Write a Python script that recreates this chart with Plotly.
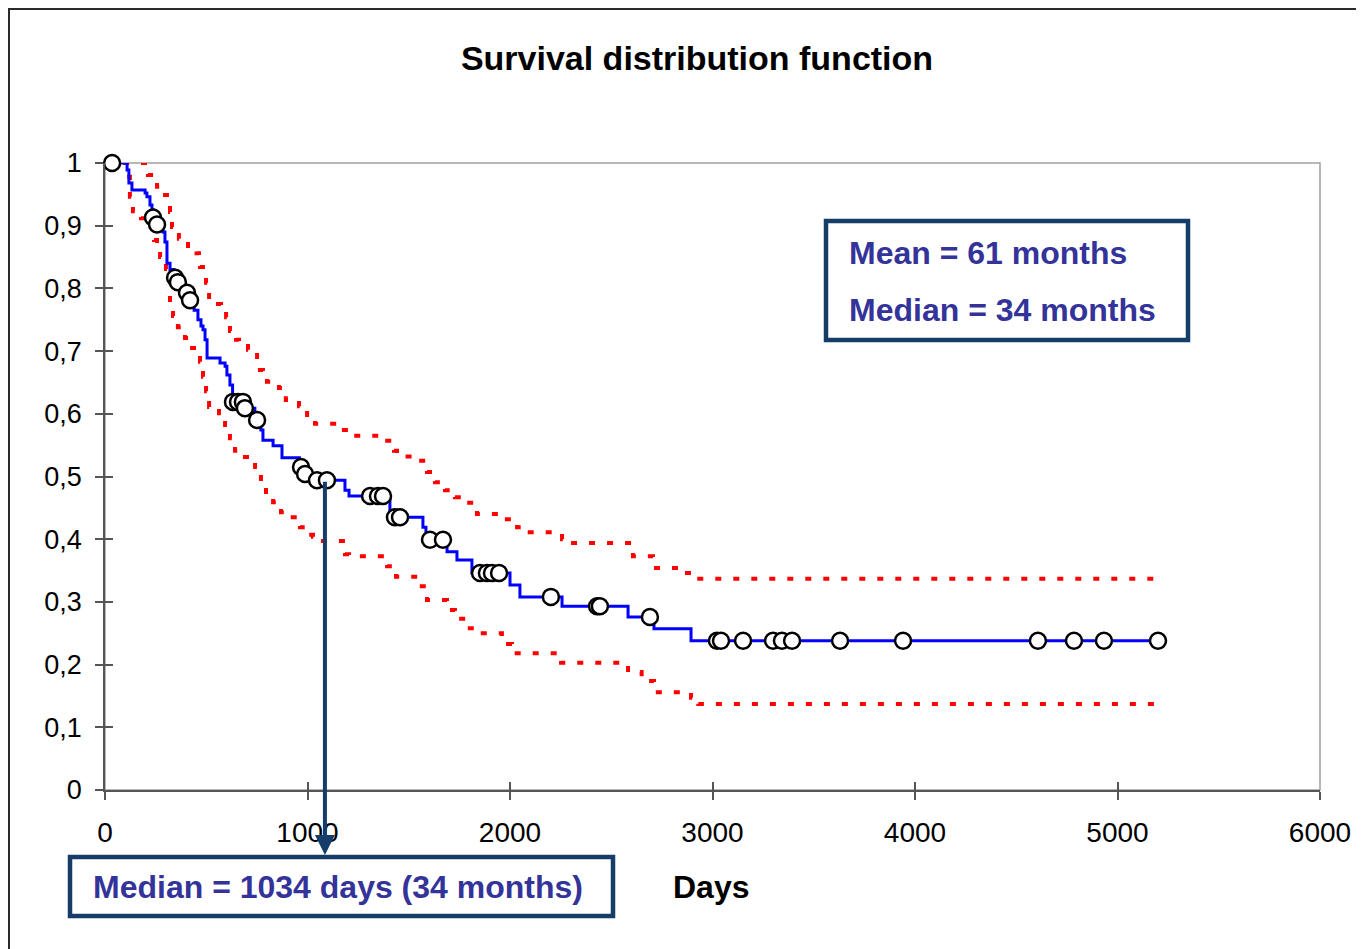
import plotly.graph_objects as go

# ---------------- data ----------------
# Kaplan-Meier estimate: step times (days) and survival after each step
km_times = [0, 109, 118, 133, 198, 207, 222, 232, 240, 250, 286, 296, 306, 321,
            340, 355, 395, 415, 440, 459, 474, 484, 494, 504, 568, 593, 602, 617,
            630, 688, 740, 770, 780, 830, 874, 960, 980, 1030, 1185, 1205, 1407,
            1570, 1585, 1689, 1738, 1812, 2000, 2049, 2257, 2583, 2711, 2894, 5200]
km_surv = [1.000, 0.989, 0.968, 0.957, 0.952, 0.946, 0.933, 0.925, 0.913, 0.902,
           0.890, 0.874, 0.840, 0.830, 0.817, 0.810, 0.793, 0.781, 0.765, 0.750,
           0.740, 0.734, 0.718, 0.689, 0.681, 0.676, 0.662, 0.646, 0.619, 0.609,
           0.590, 0.574, 0.558, 0.549, 0.530, 0.515, 0.504, 0.494, 0.478, 0.469,
           0.435, 0.419, 0.399, 0.380, 0.367, 0.346, 0.327, 0.308, 0.293, 0.276,
           0.257, 0.238, 0.238]

# censored observations (open circles)
cens_times = [35, 237, 257, 346, 360, 405, 420, 632, 657, 681, 691, 751, 968, 988,
              1047, 1096, 1309, 1348, 1373, 1432, 1457, 1605, 1669, 1852, 1886,
              1911, 1946, 2202, 2430, 2444, 2691, 3022, 3042, 3151, 3299, 3343,
              3393, 3630, 3941, 4607, 4785, 4933, 5200]
cens_surv = [1.000, 0.913, 0.902, 0.817, 0.810, 0.793, 0.781, 0.619, 0.619, 0.619,
             0.609, 0.590, 0.515, 0.504, 0.494, 0.494, 0.469, 0.469, 0.469, 0.435,
             0.435, 0.399, 0.399, 0.346, 0.346, 0.346, 0.346, 0.308, 0.293, 0.293,
             0.276, 0.238, 0.238, 0.238, 0.238, 0.238, 0.238, 0.238, 0.238, 0.238,
             0.238, 0.238, 0.238]

# upper confidence limit
upper_times = [0, 212, 257, 286, 306, 321, 331, 365, 410, 452, 464, 469, 484, 499,
               514, 558, 573, 598, 617, 647, 662, 706, 751, 765, 780, 800, 859, 893,
               958, 998, 1037, 1151, 1220, 1383, 1427, 1442, 1531, 1590, 1605, 1630,
               1679, 1728, 1783, 1837, 1965, 2035, 2069, 2257, 2286, 2588, 2607,
               2706, 2860, 2894, 5200]
upper_surv = [1.000, 0.981, 0.962, 0.949, 0.944, 0.922, 0.898, 0.879, 0.864, 0.856,
              0.852, 0.834, 0.829, 0.809, 0.783, 0.775, 0.770, 0.754, 0.732, 0.718,
              0.713, 0.702, 0.686, 0.670, 0.665, 0.651, 0.641, 0.622, 0.612, 0.595,
              0.584, 0.574, 0.565, 0.557, 0.541, 0.532, 0.525, 0.507, 0.502, 0.491,
              0.478, 0.467, 0.458, 0.440, 0.432, 0.419, 0.411, 0.400, 0.394, 0.388,
              0.373, 0.354, 0.346, 0.337, 0.337]

# lower confidence limit
lower_times = [0, 109, 123, 138, 178, 207, 242, 257, 272, 301, 321, 336, 360, 395,
               430, 469, 484, 499, 514, 563, 593, 617, 642, 681, 701, 741, 770, 795,
               830, 869, 914, 963, 998, 1027, 1057, 1185, 1205, 1393, 1437, 1546,
               1590, 1689, 1728, 1783, 1832, 1960, 2010, 2252, 2583, 2650, 2711,
               2894, 2930, 5200]
lower_surv = [1.000, 0.978, 0.946, 0.923, 0.912, 0.907, 0.877, 0.872, 0.850, 0.831,
              0.778, 0.756, 0.738, 0.721, 0.705, 0.683, 0.659, 0.636, 0.611, 0.601,
              0.582, 0.561, 0.541, 0.531, 0.526, 0.515, 0.490, 0.470, 0.459, 0.443,
              0.435, 0.419, 0.407, 0.404, 0.397, 0.376, 0.373, 0.357, 0.340, 0.325,
              0.303, 0.287, 0.273, 0.258, 0.250, 0.233, 0.218, 0.203, 0.188, 0.174,
              0.156, 0.147, 0.137, 0.137]

x_ticks = [0, 1000, 2000, 3000, 4000, 5000, 6000]
x_tick_labels = ["0", "1000", "2000", "3000", "4000", "5000", "6000"]
y_ticks = [0, 0.1, 0.2, 0.3, 0.4, 0.5, 0.6, 0.7, 0.8, 0.9, 1.0]
y_tick_labels = ["0", "0,1", "0,2", "0,3", "0,4", "0,5", "0,6", "0,7", "0,8", "0,9", "1"]

median_arrow_day = 1086
median_arrow_surv = 0.494

title_text = "Survival distribution function"
x_title = "Days"
mean_text = "Mean = 61 months"
median_text = "Median = 34 months"
median_days_text = "Median = 1034 days (34 months)"

# ---------------- layout helpers (screen pixel -> paper) ----------------
SCREEN_W, SCREEN_H = 1364, 949
OFF = 8                      # page body margin
W, H = SCREEN_W - OFF, SCREEN_H - OFF
L, R, T, B = 105, 1320, 163, 790   # plot area in screen pixels


def px_x(px):
    return (px - L) / (R - L)


def px_y(py):
    return (B - py) / (B - T)


FONT = "Liberation Sans, Arial, sans-serif"
NAVY = "#163C6A"
INDIGO = "#333399"
AXIS = "#555555"

fig = go.Figure()

fig.add_trace(go.Scatter(x=upper_times, y=upper_surv, mode="lines", line_shape="hv",
                         line=dict(color="#FF0000", width=4, dash="6px,12px"),
                         showlegend=False, hoverinfo="skip"))
fig.add_trace(go.Scatter(x=lower_times, y=lower_surv, mode="lines", line_shape="hv",
                         line=dict(color="#FF0000", width=4, dash="6px,12px"),
                         showlegend=False, hoverinfo="skip"))
fig.add_trace(go.Scatter(x=km_times, y=km_surv, mode="lines", line_shape="hv",
                         line=dict(color="#0000FF", width=3),
                         showlegend=False))
fig.add_trace(go.Scatter(x=cens_times, y=cens_surv, mode="markers",
                         marker=dict(symbol="circle", size=16, color="white",
                                     line=dict(color="black", width=2.5)),
                         cliponaxis=False, showlegend=False))
# empty trace to host the overlay axes (inner half of the crossing ticks)
fig.add_trace(go.Scatter(x=[], y=[], xaxis="x2", yaxis="y2", showlegend=False))

shapes = [
    # slide frame
    dict(type="rect", xref="paper", yref="paper", layer="below",
         x0=px_x(9), x1=px_x(1400), y0=px_y(1000), y1=px_y(9),
         fillcolor="white", line=dict(color="#2A2A2A", width=2)),
    # plot area border (top / right)
    dict(type="rect", xref="paper", yref="paper", layer="below",
         x0=0, x1=1, y0=0, y1=1, line=dict(color="#A0A0A0", width=1.5)),
    # mean / median box
    dict(type="rect", xref="paper", yref="paper", layer="above",
         x0=px_x(826), x1=px_x(1188), y0=px_y(340), y1=px_y(221),
         fillcolor="white", line=dict(color=NAVY, width=4.5)),
    # median days box
    dict(type="rect", xref="paper", yref="paper", layer="above",
         x0=px_x(70), x1=px_x(613), y0=px_y(916), y1=px_y(857),
         fillcolor="white", line=dict(color=NAVY, width=4.5)),
]

annotations = [
    dict(xref="paper", yref="paper", x=px_x(847), y=px_y(253), xanchor="left",
         yanchor="middle", text=mean_text, showarrow=False,
         font=dict(family=FONT, size=32, color=INDIGO, weight="bold")),
    dict(xref="paper", yref="paper", x=px_x(847), y=px_y(310), xanchor="left",
         yanchor="middle", text=median_text, showarrow=False,
         font=dict(family=FONT, size=32, color=INDIGO, weight="bold")),
    dict(xref="paper", yref="paper", x=px_x(91), y=px_y(887), xanchor="left",
         yanchor="middle", text=median_days_text, showarrow=False,
         font=dict(family=FONT, size=32, color=INDIGO, weight="bold")),
    dict(xref="paper", yref="paper", x=px_x(711), y=px_y(887), xanchor="center",
         yanchor="middle", text=x_title, showarrow=False,
         font=dict(family=FONT, size=32, color="black", weight="bold")),
    # arrow from the curve down to the median box
    dict(xref="x", yref="y", x=median_arrow_day, y=px_y(855),
         axref="x", ayref="y", ax=median_arrow_day, ay=median_arrow_surv,
         text="", showarrow=True, arrowhead=2, arrowsize=1, arrowwidth=4,
         arrowcolor=NAVY, standoff=0, startstandoff=0),
]

fig.update_layout(
    width=W, height=H,
    margin=dict(l=L - OFF, r=SCREEN_W - R, t=T - OFF, b=SCREEN_H - B, pad=0),
    paper_bgcolor="white",
    plot_bgcolor="rgba(0,0,0,0)",
    font=dict(family=FONT, color="black"),
    title=dict(text=title_text, x=px_x(697), xref="paper", xanchor="center",
               y=1 - (58 - OFF) / H, yref="container", yanchor="middle",
               font=dict(family=FONT, size=34, color="black", weight="bold")),
    xaxis=dict(range=[0, 6000], tickvals=x_ticks, ticktext=x_tick_labels,
               ticks="outside", ticklen=8, tickwidth=1.5, tickcolor=AXIS,
               showline=True, linecolor=AXIS, linewidth=1.5,
               showgrid=False, zeroline=False, ticklabelstandoff=9,
               tickfont=dict(family=FONT, size=28, color="black")),
    yaxis=dict(range=[0, 1], tickvals=y_ticks, ticktext=y_tick_labels,
               ticks="outside", ticklen=8, tickwidth=1.5, tickcolor=AXIS,
               showline=True, linecolor=AXIS, linewidth=1.5,
               showgrid=False, zeroline=False, ticklabelstandoff=8,
               tickfont=dict(family=FONT, size=27, color="black")),
    xaxis2=dict(range=[0, 6000], overlaying="x", anchor="y", side="bottom",
                tickvals=x_ticks, ticks="inside", ticklen=8, tickwidth=1.5,
                tickcolor=AXIS, showticklabels=False, showline=False,
                showgrid=False, zeroline=False),
    yaxis2=dict(range=[0, 1], overlaying="y", anchor="x", side="left",
                tickvals=y_ticks, ticks="inside", ticklen=8, tickwidth=1.5,
                tickcolor=AXIS, showticklabels=False, showline=False,
                showgrid=False, zeroline=False),
    shapes=shapes,
    annotations=annotations,
    showlegend=False,
)

fig.write_html("out.html")
